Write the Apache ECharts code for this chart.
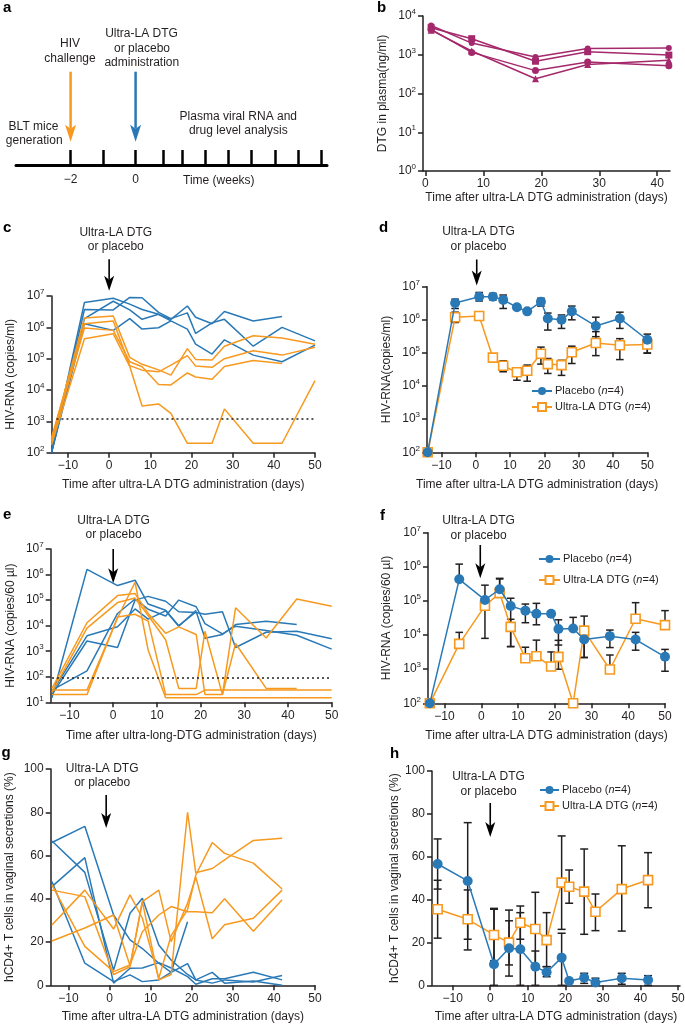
<!DOCTYPE html>
<html><head><meta charset="utf-8">
<script src="https://cdn.jsdelivr.net/npm/echarts@6/dist/echarts.min.js"></script>
<style>html,body{margin:0;padding:0;background:#fff}#chart{width:685px;height:1026px}</style>
</head><body><div id="chart"></div>
<script>
// ---------------- DATA ----------------
// Panel a (timeline, weeks)
const aWeekTicks = [-2, -1, 0, 6/7, 10/7, 15/7, 20/7, 25/7, 30/7, 35/7, 40/7];
const aWeekLabels = [-2, 0];
const aHivWeek = -2;
const aDrugWeek = 0;

// Panel b (DTG in plasma, ng/ml)
const bDays = [1, 8, 19, 28, 42];
const bMouse1 = [5700, 2000, 870, 1450, 1500];
const bMouse2 = [5000, 2600, 680, 1200, 980];
const bMouse3 = [4500, 1150, 390, 650, 520];
const bMouse4 = [4300, 1250, 240, 560, 720];
const bTicks = [0, 10, 20, 30, 40];

// Common sampling days
const days14 = [-14, -6, 1, 5, 8, 12, 15, 19, 21, 25, 28, 35, 42, 50];
const xTicks = [-10, 0, 10, 20, 30, 40, 50];

// Panel c (individual plasma HIV-RNA, copies/ml)
const cPlacebo1 = [100, 6.2e6, 8.5e6, 5.5e6, 3.7e6, 2.6e6, 1.8e6, 4.8e6, 2.1e6, 1.3e6, 3.2e6, 1.6e6, 2.2e6, null];
const cPlacebo2 = [100, 3.7e6, 3.6e6, 9e6, 8.8e6, 3e6, 1.9e6, 2.9e6, 6.4e5, 1.4e6, 1.8e6, 2.5e5, 1e6, 3.7e5];
const cPlacebo3 = [100, 1.9e6, 6.8e6, 3.6e6, 1.8e6, 2.6e6, 1.6e6, 8.8e5, 2.9e5, 1.4e5, 4e5, 1.3e5, 8e4, 2.7e5];
const cPlacebo4 = [100, 1.3e6, 8e5, 1.9e6, 8.8e5, 9.7e5, 1.6e6, null, null, null, null, null, null, null];
const cDTG1 = [250, 2e6, 2.3e6, 1.1e5, 6.6e4, 4.4e4, 3e4, 2.1e5, 9.5e4, 9e4, 2.5e5, 5.4e5, 4.6e5, 2.9e5];
const cDTG2 = [300, 1.3e6, 1.6e6, 6e4, 4.3e4, 3.8e4, 6.2e4, 1.25e5, 5.8e4, 5.3e4, 1e5, 1.8e5, 1.3e5, 2.3e5];
const cDTG3 = [220, 9.5e5, 8e5, 8e4, 5.5e4, 1.5e4, 1.45e4, 3.5e4, 2.6e4, 2.2e4, 5.6e4, 8.8e4, 7e4, null];
const cDTG4 = [180, 4.3e5, 6.2e5, 5.7e4, 3.1e3, 3.6e3, 1.8e3, 200, 200, 200, 2.5e3, 200, 200, 2e4];
const cLimit = 1200;

// Panel d (mean plasma HIV-RNA)
const dPlacebo = [100, 3.2e6, 5e6, 5e6, 4e6, 2.4e6, 1.8e6, 3.5e6, 1.1e6, 1e6, 1.8e6, 6.5e5, 1.1e6, 2.5e5];
const dPlaceboLow = [null, 2.2e6, 3.7e6, 4e6, 2.2e6, null, null, 2.6e6, 4.9e5, 5.5e5, 1e6, 3.1e5, 5.5e5, 1e5];
const dPlaceboHigh = [null, 4.2e6, 6.7e6, 6.3e6, 5.6e6, null, null, 4.5e6, 1.6e6, 1.4e6, 2.6e6, 1.2e6, 1.7e6, 3.7e5];
const dDTG = [100, 1.2e6, 1.3e6, 7.2e4, 4.1e4, 2.6e4, 2.9e4, 9.5e4, 4.6e4, 4.3e4, 1.05e5, 2e5, 1.7e5, 1.8e5];
const dDTGLow = [null, 8.3e5, 9.8e5, null, 2.7e4, 1.5e4, 1.4e4, 4.6e4, 2.4e4, 2.1e4, 4.8e4, 8.3e4, 6.3e4, 9.8e4];
const dDTGHigh = [null, 1.7e6, 1.7e6, null, 5.8e4, 3.4e4, 4.3e4, 1.5e5, 6.8e4, 6e4, 1.6e5, 4.4e5, 2.7e5, 2.6e5];
const dLimit = 1200;

// Panel e (individual vaginal HIV-RNA, copies/60 µl)
const ePlacebo1 = [15, 1.6e6, 3.7e5, 6e5, 7e4, 4e4, 1e4, 3.5e4, 3.2e3, 4.5e3, 1.1e4, 1.5e4, 1.1e4, null];
const ePlacebo2 = [20, 2.5e3, 1.4e3, 1e5, 1.4e5, 9e4, 3.5e4, 3.3e4, 2.8e4, 3.5e4, 1.4e3, 5.5e3, 6e3, 3.1e3];
const ePlacebo3 = [30, 170, 3e4, 1.1e5, 4.4e4, 2.4e4, 1e5, 5.5e4, 1.2e4, 4.8e3, 9.5e3, 6.5e3, 4.2e3, 1.2e3];
const ePlacebo4 = [25, 4e3, 9e3, 4.5e4, 1.8e4, 3.8e4, 9.5e3, 4e4, null, null, null, null, null, null];
const eDTG1 = [30, 30, 2e4, 5e5, 1.1e3, 15, 15, 15, 15, 15, 15, 15, 15, 15];
const eDTG2 = [20, 20, 2.2e4, 2.8e4, 1.5e4, 20, 20, 20, 30, 30, 30, 30, 30, 30];
const eDTG3 = [35, 1.3e4, 1.5e5, 1.8e5, 3e4, 5e3, 9e3, 4.5e3, 20, 20, 5e4, 3.3e3, 1.1e5, 5.7e4];
const eDTG4 = [25, 8e3, 8e4, 1.2e5, 2.5e4, 2.8e3, 35, 35, 6e3, 20, 2e3, 35, 35, null];
const eLimit = 90;

// Panel f (mean vaginal HIV-RNA)
const fPlacebo = [100, 4.3e5, 1.07e5, 2.2e5, 7.1e4, 5.2e4, 4.2e4, 4.2e4, 1.5e4, 1.55e4, 7.4e3, 9.3e3, 7.4e3, 2.3e3];
const fPlaceboLow = [null, null, 8e3, null, 4.6e3, 2.3e4, 2e4, null, 5.1e3, null, 2.2e3, 4.3e3, 3.6e3, 8.7e2];
const fPlaceboHigh = [null, 1.2e6, 2.9e5, 4.6e5, 1.2e5, 8.1e4, 8.5e4, null, 2.8e4, 3.3e4, 1.2e4, 1.4e4, 1.2e4, 3.8e3];
const fDTG = [100, 5.5e3, 7.2e4, 1.7e5, 1.74e4, 2.1e3, 2.4e3, 1.2e3, 2.3e3, 100, 1.35e4, 980, 3e4, 1.95e4];
const fDTGLow = [null, null, null, null, 4.6e3, null, null, null, 1e3, null, 2.2e3, null, null, null];
const fDTGHigh = [null, 1.2e4, null, 4.4e5, 2.9e4, 4.4e3, 7.1e3, 3.2e3, 7e3, null, 3.6e4, 2.6e3, 8.9e4, 5.2e4];
const fLimit = 1200;

// Panel g (individual hCD4+ T cells, %)
const days13 = [-14, -6, 1, 5, 8, 12, 15, 19, 21, 25, 28, 35, 42];
const gPlacebo1 = [66, 73.5, 32.5, 21, 17, 10.2, 6, 10, 2.5, 6, 1, 2, 0];
const gPlacebo2 = [66.7, 52.2, 7, 33.3, 40.2, 18.6, 11.7, 5, 2.5, 1, 2.5, 1.5, 4.5];
const gPlacebo3 = [45.6, 59, 1, 7.9, 8, 10.5, 8, 4, 0.5, 3, 3, 6, 2.5];
const gPlacebo4 = [48, 10.2, 1.7, 4.8, 1.7, 2.5, 6, 29.4, null, null, null, null, null];
const gDTG1 = [20.5, 26.5, 32.5, 9, 38.7, 2.5, 5, 80, 52, 54, 58, 67, 68];
const gDTG2 = [27.9, 44, 26, 41.8, 31, 3.2, 23, 35, 51, 66, 61, 56.5, 44.5];
const gDTG3 = [46.4, 18, 6.3, 9.4, 24.8, 32.5, 36.4, 34, 34, 33.5, 40, 25, 39.5];
const gDTG4 = [44, 41, 5, 8.6, 38.7, 44, 20.2, 38, 50, 21.5, 28, 31, 44];

// Panel h (mean hCD4+ T cells, %)
const hPlacebo = [56.6, 48.7, 9.8, 17.3, 16.8, 8.7, 6.1, 12.9, 2, 3.5, 1.3, 3.3, 2.5];
const hPlaceboLow = [44.9, 16.5, 0, 4.3, 0, 0, 4, 0, null, 0.9, 0, 0.5, 0];
const hPlaceboHigh = [68.3, 75.9, 35.9, 35.1, 33.9, 16, 8.7, 24.3, null, 5.6, 3.3, 5.6, 4.5];
const hDTG = [35.5, 30.8, 23.5, 19.9, 29.2, 26.3, 21.1, 47.9, 46, 43.7, 34.3, 44.9, 49.1];
const hDTGLow = [22, 21.5, 11.5, 9.5, 21.5, 9.4, 8.7, 26.1, 38.3, 23.8, 25.5, 25.3, 36.2];
const hDTGHigh = [49, 44.5, 35.5, 30.1, 37, 43.4, 33.9, 69.7, 53.8, 63.6, 42.6, 65.1, 61.9];

// ---------------- STYLE ----------------
const FONT = '"Liberation Sans", Arial, Helvetica, sans-serif';
const INK = '#231f20';
const BLUE = '#2a79b7';
const ORANGE = '#f7991f';
const MAGENTA = '#a4296c';

const chart = echarts.init(document.getElementById('chart'), null, {renderer: 'canvas'});

const grids = [
  {left: 16, top: 90, width: 311, height: 75},
  {left: 423, top: 16, width: 247, height: 155},
  {left: 51.5, top: 296, width: 263.5, height: 156.7},
  {left: 427, top: 286.7, width: 220.3, height: 165.6},
  {left: 50.7, top: 549, width: 281, height: 153.3},
  {left: 428, top: 532.7, width: 237, height: 170.6},
  {left: 50.7, top: 769, width: 264.3, height: 216.3},
  {left: 432, top: 771, width: 248, height: 214.3}
].map(g => Object.assign({containLabel: false, outerBoundsMode: 'none', show: false}, g));

const axTick = {length: 5, lineStyle: {color: INK, width: 1.5}};
const minus = v => (v < 0 ? '\u2212' + (-v) : String(v));

function xAx(k, min, max, ticks, name, nameGap) {
  return {
    type: 'value', gridIndex: k, min, max, splitLine: {show: false},
    axisLine: {show: true, onZero: false, lineStyle: {color: INK, width: 1.5}},
    axisTick: Object.assign({show: true, customValues: ticks}, axTick),
    axisLabel: {show: true, customValues: ticks, margin: 7, fontSize: 12, color: INK, fontFamily: FONT, formatter: minus},
    name, nameLocation: 'middle', nameGap,
    nameTextStyle: {fontSize: 12, color: INK, fontFamily: FONT}
  };
}
function yLog(k, min, max, name, nameGap) {
  return {
    type: 'log', logBase: 10, gridIndex: k, min, max, splitNumber: 10, splitLine: {show: false},
    axisLine: {show: true, onZero: false, lineStyle: {color: INK, width: 1.5}},
    axisTick: Object.assign({show: true}, axTick),
    minorTick: {show: false},
    axisLabel: {
      show: true, margin: 7, color: INK, fontFamily: FONT,
      formatter: v => '{b|10}{s|' + Math.round(Math.log10(v)) + '}',
      rich: {
        b: {fontSize: 12, lineHeight: 16, fontFamily: FONT, color: INK, verticalAlign: 'middle'},
        s: {fontSize: 8, lineHeight: 8, fontFamily: FONT, color: INK, verticalAlign: 'top'}
      }
    },
    name, nameLocation: 'middle', nameGap,
    nameTextStyle: {fontSize: 12, color: INK, fontFamily: FONT}
  };
}
function yLin(k, name, nameGap) {
  return {
    type: 'value', gridIndex: k, min: 0, max: 100, interval: 20, splitLine: {show: false},
    axisLine: {show: true, onZero: false, lineStyle: {color: INK, width: 1.5}},
    axisTick: Object.assign({show: true}, axTick),
    axisLabel: {show: true, margin: 7, fontSize: 12, color: INK, fontFamily: FONT},
    name, nameLocation: 'middle', nameGap,
    nameTextStyle: {fontSize: 12, color: INK, fontFamily: FONT}
  };
}

const xTitle = 'Time after ultra-LA DTG administration (days)';
const xAxes = [
  {
    type: 'value', gridIndex: 0, min: -3.68, max: 5.89, splitLine: {show: false},
    axisLine: {show: true, onZero: false, lineStyle: {color: '#000', width: 3}},
    axisTick: {show: true, customValues: aWeekTicks, inside: true, length: 15, lineStyle: {color: '#000', width: 2.5}},
    axisLabel: {show: true, customValues: aWeekLabels, margin: 9, fontSize: 12, color: INK, fontFamily: FONT, formatter: minus}
  },
  xAx(1, -0.4, 42.2, bTicks, xTitle, 21),
  xAx(2, -14, 50, xTicks, xTitle, 26),
  xAx(3, -14.2, 50, xTicks, xTitle, 26.5),
  xAx(4, -14.3, 50, xTicks, 'Time after ultra-long-DTG administration (days)', 27),
  xAx(5, -14.5, 50, xTicks, xTitle, 26),
  xAx(6, -14.3, 50, xTicks, xTitle, 25),
  xAx(7, -15.5, 50.5, xTicks, xTitle, 25)
];
const yAxes = [
  {type: 'value', gridIndex: 0, min: 0, max: 1, show: false},
  yLog(1, 1, 1e4, 'DTG in plasma(ng/ml)', 34),
  yLog(2, 1e2, 1e7, 'HIV-RNA (copies/ml)', 35),
  yLog(3, 1e2, 1e7, 'HIV-RNA(copies/ml)', 34),
  yLog(4, 1e1, 1e7, 'HIV-RNA (copies/60 \u00b5l)', 34),
  yLog(5, 1e2, 1e7, 'HIV-RNA (copies/60 \u00b5l)', 35),
  yLin(6, 'hCD4+ T cells in vaginal secretions (%)', 35.5),
  yLin(7, 'hCD4+ T cells in vaginal secretions (%)', 29)
];

function pairs(days, vals) {
  const out = [];
  days.forEach((d, i) => { if (vals[i] != null) out.push([d, vals[i]]); });
  return out;
}
function thinLine(k, days, vals, color, z) {
  return {type: 'line', xAxisIndex: k, yAxisIndex: k, data: pairs(days, vals), symbol: 'none',
    lineStyle: {color, width: 1.5}, itemStyle: {color}, z: z || 3, animation: false, silent: true};
}
function bLine(vals, symbol, size) {
  return {type: 'line', xAxisIndex: 1, yAxisIndex: 1, data: pairs(bDays, vals), symbol, symbolSize: size,
    showAllSymbol: true, lineStyle: {color: MAGENTA, width: 1.5}, itemStyle: {color: MAGENTA}, animation: false, silent: true};
}
function meanLine(k, name, days, vals, isPlacebo) {
  return {type: 'line', name, xAxisIndex: k, yAxisIndex: k, data: pairs(days, vals),
    symbol: isPlacebo ? 'circle' : 'rect', symbolSize: isPlacebo ? 10 : 9, showAllSymbol: true,
    lineStyle: {color: isPlacebo ? BLUE : ORANGE, width: 1.5},
    itemStyle: isPlacebo ? {color: BLUE} : {color: '#fff', borderColor: ORANGE, borderWidth: 1.6},
    z: isPlacebo ? 5 : 4, animation: false, silent: true};
}
function errBars(k, days, mean, low, high, capW) {
  const data = [];
  days.forEach((d, i) => {
    const lo = low[i] == null ? mean[i] : low[i];
    const hi = high[i] == null ? mean[i] : high[i];
    if (lo !== hi) data.push([d, lo, hi, low[i] != null ? 1 : 0, high[i] != null ? 1 : 0]);
  });
  return {
    type: 'custom', xAxisIndex: k, yAxisIndex: k, data, z: 2, silent: true, animation: false, clip: false,
    encode: {x: 0, y: [1, 2]},
    renderItem: (p, api) => {
      const x = api.value(0);
      const a = api.coord([x, api.value(1)]);
      const b = api.coord([x, api.value(2)]);
      const st = {stroke: INK, lineWidth: 1.5};
      const ch = [{type: 'line', shape: {x1: a[0], y1: a[1], x2: b[0], y2: b[1]}, style: st}];
      if (api.value(3)) ch.push({type: 'line', shape: {x1: a[0] - capW, y1: a[1], x2: a[0] + capW, y2: a[1]}, style: st});
      if (api.value(4)) ch.push({type: 'line', shape: {x1: b[0] - capW, y1: b[1], x2: b[0] + capW, y2: b[1]}, style: st});
      return {type: 'group', children: ch};
    }
  };
}
function limitLine(series, x0, x1, y) {
  series.markLine = {silent: true, symbol: ['none', 'none'], label: {show: false}, animation: false,
    lineStyle: {type: [2, 3], color: INK, width: 1.5},
    data: [[{coord: [x0, y]}, {coord: [x1, y]}]]};
  return series;
}

const series = [];
// a: invisible anchor series
series.push({type: 'line', xAxisIndex: 0, yAxisIndex: 0, data: [], silent: true});
// b
series.push(bLine(bMouse1, 'circle', 6), bLine(bMouse2, 'rect', 7), bLine(bMouse3, 'circle', 7), bLine(bMouse4, 'triangle', 7));
// c
[cPlacebo1, cPlacebo2, cPlacebo3, cPlacebo4].forEach(v => series.push(thinLine(2, days14, v, BLUE, 3)));
[cDTG1, cDTG2, cDTG3, cDTG4].forEach(v => series.push(thinLine(2, days14, v, ORANGE, 4)));
series.push(limitLine({type: 'line', xAxisIndex: 2, yAxisIndex: 2, data: [], silent: true}, -12.8, 50, cLimit));
// d
series.push(limitLine({type: 'line', xAxisIndex: 3, yAxisIndex: 3, data: [], silent: true}, -10.6, 50.5, dLimit));
series.push(errBars(3, days14, dPlacebo, dPlaceboLow, dPlaceboHigh, 3.8));
series.push(errBars(3, days14, dDTG, dDTGLow, dDTGHigh, 3.8));
series.push(meanLine(3, 'Ultra-LA DTG', days14, dDTG, false));
series.push(meanLine(3, 'Placebo', days14, dPlacebo, true));
// e
[ePlacebo1, ePlacebo2, ePlacebo3, ePlacebo4].forEach(v => series.push(thinLine(4, days14, v, BLUE, 3)));
[eDTG1, eDTG2, eDTG3, eDTG4].forEach(v => series.push(thinLine(4, days14, v, ORANGE, 4)));
series.push(limitLine({type: 'line', xAxisIndex: 4, yAxisIndex: 4, data: [], silent: true}, -14, 50, eLimit));
// f
series.push(limitLine({type: 'line', xAxisIndex: 5, yAxisIndex: 5, data: [], silent: true}, -14, 50.5, fLimit));
series.push(errBars(5, days14, fPlacebo, fPlaceboLow, fPlaceboHigh, 3.8));
series.push(errBars(5, days14, fDTG, fDTGLow, fDTGHigh, 3.8));
series.push(meanLine(5, 'Ultra-LA DTG', days14, fDTG, false));
series.push(meanLine(5, 'Placebo', days14, fPlacebo, true));
// g
[gPlacebo1, gPlacebo2, gPlacebo3, gPlacebo4].forEach(v => series.push(thinLine(6, days13, v, BLUE, 3)));
[gDTG1, gDTG2, gDTG3, gDTG4].forEach(v => series.push(thinLine(6, days13, v, ORANGE, 4)));
// h
series.push(errBars(7, days13, hPlacebo, hPlaceboLow, hPlaceboHigh, 4));
series.push(errBars(7, days13, hDTG, hDTGLow, hDTGHigh, 4));
series.push(meanLine(7, 'Ultra-LA DTG', days13, hDTG, false));
series.push(meanLine(7, 'Placebo', days13, hPlacebo, true));

function legendAt(left, top, itemWidth, itemGap) {
  return {
    show: true, orient: 'vertical', left, top, padding: 0, itemGap, itemWidth, itemHeight: 10,
    data: ['Placebo', 'Ultra-LA DTG'], selectedMode: false,
    formatter: n => n + ' ({i|n}=4)',
    textStyle: {fontSize: 11, color: INK, fontFamily: FONT, lineHeight: 14, padding: [0, 0, 0, -2],
      rich: {i: {fontSize: 11, fontStyle: 'italic', color: INK, fontFamily: FONT}}}
  };
}

chart.setOption({
  animation: false,
  backgroundColor: '#fff',
  textStyle: {fontFamily: FONT, color: INK},
  grid: grids,
  xAxis: xAxes,
  yAxis: yAxes,
  legend: [legendAt(531, 384, 20, 2), legendAt(538, 552, 21, 7), legendAt(539, 783, 19, 2)],
  series
});

// ---------------- ANNOTATIONS (layout) ----------------
function txt(x, y, s, opts) {
  return {type: 'text', x, y, silent: true, style: Object.assign({text: s, fill: INK, fontSize: 12, fontFamily: FONT, align: 'center', verticalAlign: 'middle'}, opts || {})};
}
function arrow(x, top, tip, color, shaftW, headW, headL) {
  return [
    {type: 'line', silent: true, shape: {x1: x, y1: top, x2: x, y2: tip - headL + 4}, style: {stroke: color, lineWidth: shaftW}},
    {type: 'polygon', silent: true, shape: {points: [[x, tip], [x - headW / 2, tip - headL], [x, tip - headL + 4], [x + headW / 2, tip - headL]]}, style: {fill: color}}
  ];
}
const g = [];
// panel letters
[['a', 3, 7.4], ['b', 377, 7.4], ['c', 3, 228], ['d', 379, 228], ['e', 3, 514.7], ['f', 380, 515.4], ['g', 1.5, 753], ['h', 390, 753.7]]
  .forEach(([s, x, y]) => g.push(txt(x, y, s, {fontSize: 15, fontWeight: 'bold', align: 'left', fill: '#000'})));

// panel a
const xHiv = chart.convertToPixel({xAxisIndex: 0}, aHivWeek);
const xDrug = chart.convertToPixel({xAxisIndex: 0}, aDrugWeek);
g.push(...arrow(xHiv, 71.7, 141.7, ORANGE, 2.5, 11, 17));
g.push(...arrow(xDrug, 71.7, 141.7, BLUE, 2.5, 11, 17));
g.push(txt(70, 44, 'HIV'), txt(70, 58.5, 'challenge'));
g.push(txt(141.5, 34, 'Ultra-LA DTG'), txt(142, 48.5, 'or placebo'), txt(141.8, 63, 'administration'));
g.push(txt(33.5, 127, 'BLT mice'), txt(34.2, 140.5, 'generation'));
g.push(txt(238.3, 116.7, 'Plasma viral RNA and'), txt(238.3, 130.5, 'drug level analysis'));
g.push(txt(218.8, 180.3, 'Time (weeks)'));

// drug arrows on panels c-h
const ann = [
  {k: 2, dx: 0, tdx: 6.6, y1: 232.5, y2: 247, top: 259.3, tip: 290.7},
  {k: 3, dx: 1, tdx: 2.8, y1: 232, y2: 246.5, top: 259.5, tip: 285.5},
  {k: 4, dx: 0, tdx: 0.4, y1: 520.7, y2: 534.5, top: 549, tip: 583.3},
  {k: 5, dx: -1, tdx: -2.7, y1: 521, y2: 535.5, top: 545, tip: 578.3},
  {k: 6, dx: -3.3, tdx: -7.3, y1: 768.3, y2: 783, top: 795, tip: 828},
  {k: 7, dx: 0, tdx: -1.7, y1: 776.7, y2: 792, top: 803, tip: 837}
];
ann.forEach(a => {
  const x0 = chart.convertToPixel({xAxisIndex: a.k}, 0);
  g.push(...arrow(x0 + a.dx, a.top, a.tip, '#000', 1.6, 10, 15));
  g.push(txt(x0 + a.tdx, a.y1, 'Ultra-LA DTG'), txt(x0 + a.tdx, a.y2, 'or placebo'));
});

chart.setOption({graphic: {elements: g}});
</script></body></html>
